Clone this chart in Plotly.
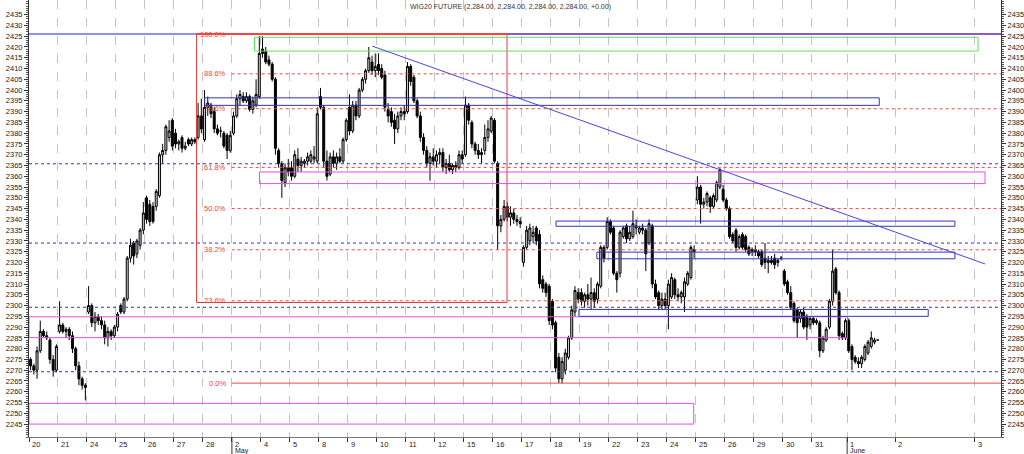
import plotly.graph_objects as go

# ---------------- data ----------------
day_labels = ["20", "21", "24", "25", "26", "27", "28", "2", "4", "5", "8", "9", "10", "11", "12",
              "15", "16", "17", "18", "19", "22", "23", "24", "25", "26", "29", "30", "31", "1"]
bars_per_day = [9] * 27 + [11, 10]
future_labels = ["2", "3"]
future_pos = [29.88, 32.63]
month_labels = ["May", "June"]
month_day_index = [7, 28]

opens = [
    2275, 2272, 2270, 2279, 2288, 2286, 2284, 2275, 2270,
    2288, 2291, 2288, 2289, 2286, 2280, 2272, 2266, 2263,
    2297, 2300, 2292, 2295, 2293, 2291, 2285, 2288, 2286,
    2290, 2300, 2297, 2303, 2322, 2329, 2324, 2328, 2335,
    2350, 2347, 2346, 2346, 2351, 2370, 2372, 2378, 2386,
    2380, 2375, 2378, 2373, 2377, 2375, 2377, 2378, 2388,
    2377, 2392, 2393, 2390, 2382, 2381, 2380, 2379, 2372,
    2380, 2388, 2396, 2397, 2395, 2397, 2391, 2393, 2397,
    2419, 2418, 2414, 2412, 2405, 2372, 2366, 2357, 2364,
    2364, 2360, 2368, 2365, 2366, 2367, 2367, 2368, 2367,
    2397, 2392, 2367, 2361, 2369, 2366, 2369, 2367, 2377,
    2392, 2381, 2393, 2388, 2400, 2405, 2409, 2413, 2409,
    2412, 2410, 2407, 2391, 2390, 2386, 2382, 2388, 2390,
    2390, 2411, 2406, 2395, 2388, 2378, 2372, 2366, 2369,
    2367, 2370, 2371, 2364, 2366, 2363, 2365, 2364, 2370,
    2370, 2393, 2385, 2375, 2372, 2370, 2372, 2378, 2381,
    2386, 2366, 2337, 2340, 2346, 2341, 2343, 2340, 2339,
    2320, 2327, 2330, 2332, 2336, 2333, 2312, 2310, 2309,
    2302, 2292, 2276, 2266, 2270, 2276, 2285, 2297, 2306,
    2306, 2302, 2305, 2303, 2306, 2303, 2309, 2327, 2327,
    2339, 2336, 2315, 2315, 2332, 2337, 2331, 2332, 2336,
    2334, 2336, 2335, 2329, 2337, 2310, 2306, 2300, 2303,
    2300, 2304, 2312, 2305, 2304, 2304, 2310, 2313, 2325,
    2349, 2355, 2347, 2348, 2350, 2346, 2349, 2355, 2354,
    2349, 2345, 2333, 2335, 2327, 2333, 2332, 2327, 2325,
    2326, 2325, 2325, 2322, 2320, 2321, 2322, 2320, 2322,
    2316, 2311, 2306, 2301, 2298, 2294, 2297, 2295, 2291,
    2294, 2292, 2292, 2279, 2284, 2290, 2302, 2317, 2306, 2287, 2285,
    2293, 2281, 2276, 2274, 2273, 2275, 2278, 2281, 2283, 2284,
]
highs = [
    2276, 2273, 2281, 2293, 2289, 2288, 2285, 2277, 2282,
    2302, 2292, 2290, 2290, 2288, 2281, 2274, 2267, 2264,
    2309, 2301, 2297, 2296, 2295, 2293, 2290, 2289, 2291,
    2297, 2301, 2304, 2323, 2331, 2330, 2331, 2336, 2348,
    2351, 2349, 2348, 2354, 2371, 2375, 2384, 2386, 2387,
    2382, 2377, 2379, 2376, 2378, 2378, 2378, 2394, 2396,
    2400, 2397, 2394, 2392, 2384, 2383, 2381, 2380, 2381,
    2390, 2398, 2400, 2399, 2399, 2398, 2397, 2405, 2425,
    2425, 2420, 2416, 2413, 2406, 2373, 2367, 2366, 2368,
    2367, 2372, 2373, 2369, 2368, 2371, 2372, 2374, 2392,
    2401, 2393, 2372, 2371, 2372, 2371, 2373, 2378, 2387,
    2398, 2395, 2395, 2401, 2406, 2410, 2420, 2416, 2417,
    2417, 2412, 2409, 2394, 2392, 2389, 2390, 2392, 2393,
    2413, 2412, 2407, 2396, 2390, 2380, 2374, 2371, 2373,
    2372, 2373, 2373, 2368, 2370, 2366, 2367, 2372, 2372,
    2397, 2394, 2386, 2376, 2375, 2373, 2384, 2386, 2388,
    2387, 2367, 2342, 2349, 2348, 2346, 2345, 2342, 2341,
    2328, 2337, 2338, 2337, 2337, 2335, 2314, 2311, 2310,
    2303, 2293, 2278, 2276, 2280, 2286, 2300, 2309, 2308,
    2308, 2306, 2310, 2313, 2308, 2311, 2328, 2328, 2341,
    2340, 2337, 2316, 2335, 2337, 2338, 2337, 2344, 2340,
    2337, 2338, 2336, 2340, 2338, 2312, 2307, 2306, 2306,
    2312, 2315, 2313, 2308, 2307, 2313, 2316, 2328, 2328,
    2360, 2356, 2350, 2353, 2351, 2352, 2358, 2364, 2356,
    2350, 2346, 2334, 2336, 2333, 2334, 2333, 2328, 2327,
    2328, 2326, 2326, 2329, 2323, 2323, 2324, 2322, 2323,
    2317, 2312, 2309, 2302, 2299, 2298, 2299, 2296, 2295,
    2295, 2294, 2293, 2286, 2290, 2303, 2326, 2318, 2307, 2288, 2294,
    2294, 2282, 2277, 2276, 2277, 2282, 2284, 2288, 2285, 2284,
]
lows = [
    2270, 2268, 2266, 2278, 2285, 2284, 2273, 2267, 2269,
    2287, 2287, 2285, 2284, 2278, 2270, 2263, 2261, 2256,
    2296, 2290, 2288, 2291, 2289, 2282, 2281, 2284, 2285,
    2288, 2296, 2296, 2302, 2320, 2319, 2322, 2326, 2333,
    2338, 2337, 2338, 2344, 2350, 2366, 2370, 2376, 2372,
    2373, 2372, 2371, 2372, 2374, 2374, 2375, 2377, 2380,
    2376, 2388, 2387, 2380, 2379, 2378, 2373, 2368, 2371,
    2379, 2387, 2393, 2394, 2394, 2390, 2389, 2392, 2396,
    2415, 2412, 2411, 2404, 2370, 2364, 2350, 2355, 2360,
    2358, 2359, 2362, 2362, 2364, 2365, 2366, 2366, 2366,
    2391, 2364, 2358, 2360, 2364, 2363, 2366, 2366, 2376,
    2379, 2380, 2386, 2387, 2399, 2403, 2408, 2407, 2406,
    2407, 2405, 2390, 2385, 2383, 2375, 2380, 2386, 2386,
    2389, 2402, 2394, 2387, 2376, 2370, 2364, 2358, 2365,
    2364, 2366, 2362, 2361, 2362, 2361, 2362, 2363, 2366,
    2369, 2384, 2373, 2370, 2368, 2366, 2370, 2376, 2380,
    2366, 2326, 2334, 2339, 2339, 2337, 2338, 2337, 2336,
    2318, 2326, 2328, 2329, 2328, 2308, 2306, 2304, 2291,
    2289, 2269, 2264, 2264, 2268, 2275, 2284, 2295, 2301,
    2300, 2299, 2300, 2298, 2299, 2301, 2308, 2320, 2326,
    2333, 2314, 2306, 2313, 2331, 2329, 2330, 2331, 2333,
    2333, 2333, 2316, 2328, 2308, 2303, 2298, 2298, 2298,
    2289, 2303, 2303, 2302, 2301, 2297, 2309, 2312, 2322,
    2347, 2338, 2345, 2346, 2343, 2345, 2348, 2354, 2348,
    2344, 2331, 2329, 2325, 2326, 2326, 2325, 2323, 2323,
    2323, 2322, 2318, 2317, 2315, 2319, 2317, 2318, 2321,
    2309, 2305, 2298, 2292, 2285, 2292, 2289, 2284, 2289,
    2291, 2291, 2276, 2278, 2283, 2289, 2300, 2305, 2284, 2284, 2284,
    2278, 2270, 2273, 2271, 2271, 2274, 2277, 2280, 2282, 2284,
]
closes = [
    2272, 2270, 2279, 2288, 2286, 2285, 2275, 2270, 2281,
    2291, 2288, 2289, 2286, 2280, 2272, 2266, 2263, 2262,
    2300, 2292, 2295, 2293, 2291, 2285, 2288, 2286, 2290,
    2296, 2297, 2303, 2322, 2328, 2323, 2330, 2335, 2343,
    2340, 2339, 2339, 2353, 2370, 2372, 2383, 2381, 2374,
    2375, 2376, 2373, 2374, 2375, 2377, 2376, 2388, 2382,
    2392, 2394, 2389, 2382, 2380, 2381, 2374, 2372, 2379,
    2388, 2396, 2398, 2395, 2397, 2391, 2395, 2398, 2417,
    2417, 2413, 2412, 2405, 2373, 2366, 2358, 2364, 2362,
    2360, 2370, 2365, 2367, 2367, 2369, 2370, 2369, 2389,
    2392, 2367, 2360, 2369, 2366, 2369, 2367, 2377, 2386,
    2381, 2393, 2388, 2400, 2405, 2409, 2415, 2409, 2411,
    2409, 2406, 2392, 2388, 2385, 2382, 2388, 2390, 2389,
    2411, 2404, 2395, 2388, 2378, 2372, 2366, 2369, 2367,
    2370, 2371, 2364, 2366, 2363, 2365, 2364, 2370, 2368,
    2393, 2386, 2375, 2372, 2370, 2371, 2378, 2382, 2387,
    2367, 2337, 2340, 2346, 2341, 2343, 2340, 2339, 2338,
    2327, 2335, 2336, 2334, 2330, 2310, 2308, 2306, 2293,
    2291, 2271, 2266, 2274, 2278, 2285, 2298, 2307, 2303,
    2302, 2305, 2303, 2306, 2302, 2310, 2327, 2322, 2339,
    2334, 2315, 2312, 2334, 2336, 2331, 2334, 2338, 2337,
    2336, 2335, 2324, 2338, 2310, 2304, 2300, 2303, 2300,
    2310, 2313, 2305, 2304, 2306, 2311, 2315, 2327, 2326,
    2355, 2347, 2348, 2352, 2346, 2351, 2357, 2363, 2349,
    2345, 2332, 2330, 2327, 2332, 2327, 2326, 2324, 2326,
    2325, 2323, 2319, 2320, 2321, 2320, 2319, 2321, 2322,
    2310, 2306, 2299, 2293, 2292, 2297, 2290, 2290, 2294,
    2292, 2293, 2279, 2285, 2289, 2302, 2316, 2306, 2286, 2285, 2293,
    2279, 2275, 2274, 2273, 2276, 2281, 2283, 2285, 2284, 2284,
]

# drawn studies (price levels, x extents in trading-day units)
fib_low, fib_high = 2264, 2426
fib_ratios = [1.0, 0.886, 0.786, 0.618, 0.5, 0.382, 0.236, 0.0]
fib_box_x = [5.78, 16.49]
fib_line_start = 6.99
fib_label_x = 6.85
blue_dashed_levels = [2365.8, 2329.0, 2299.2, 2269.3]
top_level = 2426
green_rect = dict(x=[7.78, 32.74], y=[2418.1, 2424.5])
blue_rects = [dict(x=[6.06, 29.33], y=[2392.9, 2396.4]),
              dict(x=[18.18, 31.94], y=[2336.8, 2339.2]),
              dict(x=[19.59, 31.94], y=[2321.7, 2324.8]),
              dict(x=[18.97, 31.02], y=[2295.0, 2298.2])]
magenta_rects = [dict(x=[7.95, 32.98], y=[2356.6, 2362.0]),
                 dict(x=[0, 28.23], y=[2285.1, 2294.8]),
                 dict(x=[0, 22.93], y=[2245.0, 2254.6])]
trend_x = [11.84, 32.98]
trend_y = [2420.4, 2319.3]
title_text = "WIG20 FUTURE (2,284.00, 2,284.00, 2,284.00, 2,284.00, +0.00)"

# ---------------- build ----------------
X_END = 33.53
day_starts = []
xs = []
pos = 0.0
for n in bars_per_day:
    day_starts.append(pos)
    for j in range(n):
        xs.append(pos + (j + 0.5) / 9.0)
    pos += n / 9.0

FONT = "Liberation Sans"
fig = go.Figure()
fig.add_trace(go.Candlestick(
    x=xs, open=opens, high=highs, low=lows, close=closes,
    increasing=dict(line=dict(color="black", width=1), fillcolor="#d2d2d2"),
    decreasing=dict(line=dict(color="black", width=1), fillcolor="black"),
    whiskerwidth=0, showlegend=False, hoverinfo="skip"))
fig.add_trace(go.Scatter(x=[None], y=[None], yaxis="y2", showlegend=False))

shapes = []
BLUE = "#3434c4"
RED = "#f04848"
MAG = "#e050e0"
shapes.append(dict(type="line", xref="paper", yref="y", x0=0, x1=1, y0=top_level, y1=top_level,
                   line=dict(color="#6a6aff", width=1.5)))
shapes.append(dict(type="line", xref="x", yref="y", x0=fib_box_x[1], x1=X_END, y0=top_level, y1=top_level,
                   line=dict(color="#8a58d0", width=2)))
for lv in blue_dashed_levels:
    shapes.append(dict(type="line", xref="paper", yref="y", x0=0, x1=1, y0=lv, y1=lv,
                       line=dict(color=BLUE, width=1, dash="3px,3px")))
fib_levels = [fib_low + r * (fib_high - fib_low) for r in fib_ratios]
for r, lv in zip(fib_ratios, fib_levels):
    if r == 1.0:
        continue
    dash = "solid" if r == 0.0 else "3px,3px"
    shapes.append(dict(type="line", xref="x", yref="y", x0=fib_line_start, x1=X_END, y0=lv, y1=lv,
                       line=dict(color=RED, width=1, dash=dash)))
shapes.append(dict(type="rect", xref="x", yref="y", x0=fib_box_x[0], x1=fib_box_x[1],
                   y0=fib_levels[6] - 0.8, y1=fib_high, line=dict(color="#e03a3a", width=1)))
shapes.append(dict(type="line", xref="x", yref="y", x0=fib_box_x[0], x1=fib_box_x[1], y0=top_level, y1=top_level,
                   line=dict(color="#ff4040", width=2)))
shapes.append(dict(type="rect", xref="x", yref="y", x0=green_rect["x"][0], x1=green_rect["x"][1],
                   y0=green_rect["y"][0], y1=green_rect["y"][1], line=dict(color="#5ee05e", width=1)))
for rc in magenta_rects:
    shapes.append(dict(type="rect", xref="x", yref="y", x0=rc["x"][0], x1=rc["x"][1],
                       y0=rc["y"][0], y1=rc["y"][1], line=dict(color=MAG, width=1)))
for rc in blue_rects:
    shapes.append(dict(type="rect", xref="x", yref="y", x0=rc["x"][0], x1=rc["x"][1],
                       y0=rc["y"][0], y1=rc["y"][1], line=dict(color=BLUE, width=1)))
shapes.append(dict(type="line", xref="x", yref="y", x0=trend_x[0], x1=trend_x[1], y0=trend_y[0], y1=trend_y[1],
                   line=dict(color="#4646e6", width=1)))
for mi in month_day_index:
    shapes.append(dict(type="line", xref="x", yref="paper", x0=day_starts[mi], x1=day_starts[mi],
                       y0=0, y1=-0.04, line=dict(color="#333", width=1)))

annotations = []
for r, lv in zip(fib_ratios, fib_levels):
    annotations.append(dict(x=fib_label_x, y=lv, xref="x", yref="y", text=f"{r*100:.1f}%",
                            showarrow=False, xanchor="right", yanchor="middle",
                            font=dict(family=FONT, size=7.5, color="#f04040")))
tick_pos = day_starts + future_pos
tick_txt = day_labels + future_labels
for p, t in zip(tick_pos, tick_txt):
    annotations.append(dict(x=p, y=0, xref="x", yref="paper", text=t, showarrow=False,
                            xanchor="left", yanchor="top", xshift=1, yshift=-1,
                            font=dict(family=FONT, size=7.5, color="#222")))
for mi, ml in zip(month_day_index, month_labels):
    annotations.append(dict(x=day_starts[mi], y=0, xref="x", yref="paper", text=ml, showarrow=False,
                            xanchor="left", yanchor="top", xshift=1, yshift=-7.5,
                            font=dict(family=FONT, size=7, color="#222")))
annotations.append(dict(x=0.495, y=1, xref="paper", yref="paper", text=title_text, showarrow=False,
                        xanchor="center", yanchor="top", yshift=-1,
                        font=dict(family=FONT, size=7, color="#333")))

yticks = list(range(2245, 2440, 5))
yax = dict(range=[2239, 2441.8], tickvals=yticks, ticktext=[str(v) for v in yticks],
           ticks="outside", ticklen=4, tickcolor="#333", showgrid=False, zeroline=False,
           showline=True, linecolor="#333", linewidth=1,
           tickfont=dict(family=FONT, size=7.5, color="#222"),
           minor=dict(dtick=1, ticks="outside", ticklen=2, tickcolor="#555", showgrid=False))

fig.update_layout(
    width=1024, height=454, margin=dict(l=29, r=21, t=0, b=17),
    paper_bgcolor="white", plot_bgcolor="white", showlegend=False,
    boxgap=0.12,
    xaxis=dict(range=[0, X_END], tickvals=tick_pos, showticklabels=False, ticks="outside",
               ticklen=4, tickcolor="#333", showgrid=True, gridcolor="#c4c4c4", griddash="dash",
               gridwidth=1, zeroline=False, showline=True, linecolor="#777", linewidth=1,
               rangeslider=dict(visible=False), fixedrange=True),
    yaxis=dict(side="left", **yax),
    yaxis2=dict(overlaying="y", side="right", matches="y", **{k: v for k, v in yax.items() if k != "range"}),
    shapes=shapes, annotations=annotations,
)
fig.write_html("out.html")
